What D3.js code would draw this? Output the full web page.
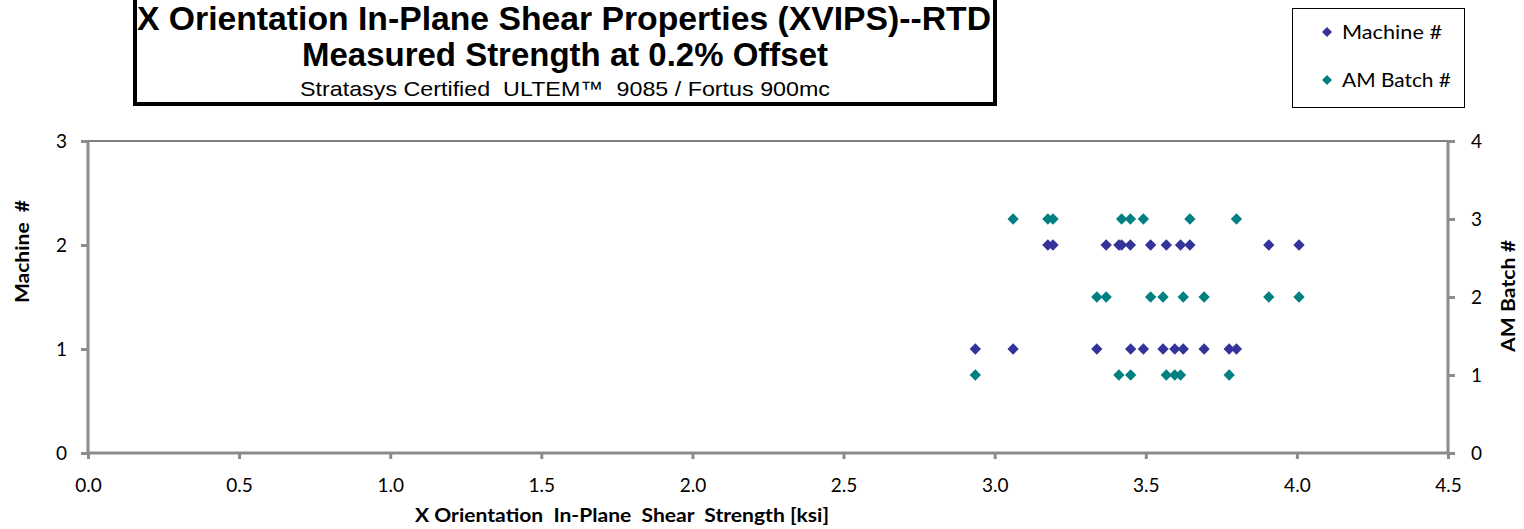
<!DOCTYPE html>
<html><head><meta charset="utf-8">
<script src="https://cdn.jsdelivr.net/npm/d3@7/dist/d3.min.js"></script>
<style>body{margin:0;background:#fff}svg{display:block}text{white-space:pre}</style>
</head><body>
<svg id="c" width="1524" height="529"></svg>
<script>
// Data
const strength = [2.936,3.061,3.176,3.193,3.338,3.369,3.411,3.420,3.449,3.450,3.492,3.516,3.557,3.568,3.596,3.615,3.624,3.646,3.693,3.776,3.800,3.907,4.007];
const machine  = [1,1,2,2,1,2,2,2,2,1,1,2,1,2,1,2,1,2,1,1,1,2,2];
const batch    = [1,3,3,3,2,2,1,3,3,1,3,2,2,1,1,1,2,3,2,1,3,2,2];
const xTicks = [0,0.5,1,1.5,2,2.5,3,3.5,4,4.5];
const leftTicks = [0,1,2,3];
const rightTicks = [0,1,2,3,4];
const seriesNames = ["Machine #","AM Batch #"];
const colors = ["#333399","#008080"];
const titleLines = ["X Orientation In-Plane Shear Properties (XVIPS)--RTD","Measured Strength at 0.2% Offset","Stratasys Certified  ULTEM\u2122  9085 / Fortus 900mc"];

const svg = d3.select("#c");
const L=88, R=1448, T=141, B=453;
const x = d3.scaleLinear().domain([0,4.5]).range([L,R]);
const yL = d3.scaleLinear().domain([0,3]).range([B,T]);
const yR = d3.scaleLinear().domain([0,4]).range([B,T]);
const font = "Lato, 'Open Sans', sans-serif";
const axisCol = "#8c8c8c";

// top border of plot
svg.append("line").attr("x1",L).attr("x2",R).attr("y1",T).attr("y2",T).attr("stroke","#000").attr("stroke-width",1);

function styleAxis(g){
  g.select(".domain").remove();
  g.selectAll(".tick line").attr("stroke",axisCol).attr("stroke-width",3);
  g.selectAll(".tick text").attr("fill","#000").style("font-family",font).style("font-size","19px");
}
// bottom axis
const gx = svg.append("g").attr("transform",`translate(0,${B})`)
  .call(d3.axisBottom(x).tickValues(xTicks).tickFormat(d3.format(".1f")).tickSize(6).tickPadding(20));
styleAxis(gx);
const gl = svg.append("g").attr("transform",`translate(${L},0)`)
  .call(d3.axisLeft(yL).tickValues(leftTicks).tickFormat(d3.format("d")).tickSize(7).tickPadding(14));
styleAxis(gl);
const gr = svg.append("g").attr("transform",`translate(${R},0)`)
  .call(d3.axisRight(yR).tickValues(rightTicks).tickFormat(d3.format("d")).tickSize(7).tickPadding(16));
styleAxis(gr);
// axis lines
svg.append("line").attr("x1",L).attr("x2",L).attr("y1",T-1).attr("y2",B+1).attr("stroke",axisCol).attr("stroke-width",3);
svg.append("line").attr("x1",R).attr("x2",R).attr("y1",T-1).attr("y2",B+1).attr("stroke",axisCol).attr("stroke-width",3);
svg.append("line").attr("x1",L).attr("x2",R).attr("y1",B).attr("y2",B).attr("stroke",axisCol).attr("stroke-width",3);

// points
const diamond = d3.symbol().type(d3.symbolSquare).size(64);
const idx = d3.range(strength.length);
svg.append("g").selectAll("path").data(idx).join("path")
  .attr("d",diamond).attr("fill",colors[0])
  .attr("transform",i=>`translate(${x(strength[i])},${yL(machine[i])}) rotate(45)`);
svg.append("g").selectAll("path").data(idx).join("path")
  .attr("d",diamond).attr("fill",colors[1])
  .attr("transform",i=>`translate(${x(strength[i])},${yR(batch[i])}) rotate(45)`);

// axis titles
svg.append("text").attr("x",415).attr("y",522).attr("textLength",414).attr("lengthAdjust","spacingAndGlyphs")
  .style("font-family",font).style("font-weight","bold").style("font-size","18px").text("X Orientation  In-Plane  Shear  Strength [ksi]");
svg.append("text").attr("transform","translate(29,303) rotate(-90)").attr("textLength",103).attr("lengthAdjust","spacingAndGlyphs")
  .style("font-family",font).style("font-weight","bold").style("font-size","18px").text("Machine  #");
svg.append("text").attr("transform","translate(1515,352) rotate(-90)").attr("textLength",112).attr("lengthAdjust","spacingAndGlyphs")
  .style("font-family",font).style("font-weight","bold").style("font-size","18px").text("AM Batch #");

// title box
svg.append("rect").attr("x",135).attr("y",-10).attr("width",860).attr("height",114)
  .attr("fill","#fff").attr("stroke","#000").attr("stroke-width",4);
const tf = "'Liberation Sans', Arial, sans-serif";
svg.append("text").attr("x",137).attr("y",30).attr("textLength",854).attr("lengthAdjust","spacingAndGlyphs")
  .style("font-family",tf).style("font-weight","bold").style("font-size","33px").text(titleLines[0]);
svg.append("text").attr("x",302).attr("y",66).attr("textLength",526).attr("lengthAdjust","spacingAndGlyphs")
  .style("font-family",tf).style("font-weight","bold").style("font-size","33px").text(titleLines[1]);
svg.append("text").attr("x",300).attr("y",96).attr("textLength",530).attr("lengthAdjust","spacingAndGlyphs")
  .style("font-family",tf).style("font-size","21px").text(titleLines[2]);

// legend
svg.append("rect").attr("x",1292.5).attr("y",8.5).attr("width",172).attr("height",99)
  .attr("fill","#fff").attr("stroke","#000").attr("stroke-width",1);
const legY = [32,80];
const legW = [100,109];
seriesNames.forEach((n,i)=>{
  svg.append("path").attr("d",d3.symbol().type(d3.symbolSquare).size(50)).attr("fill",colors[i])
    .attr("transform",`translate(1327,${legY[i]}) rotate(45)`);
  svg.append("text").attr("x",1342).attr("y",legY[i]+7).attr("textLength",legW[i]).attr("lengthAdjust","spacingAndGlyphs")
    .style("font-family",font).style("font-size","19px").text(n);
});
</script>
</body></html>
